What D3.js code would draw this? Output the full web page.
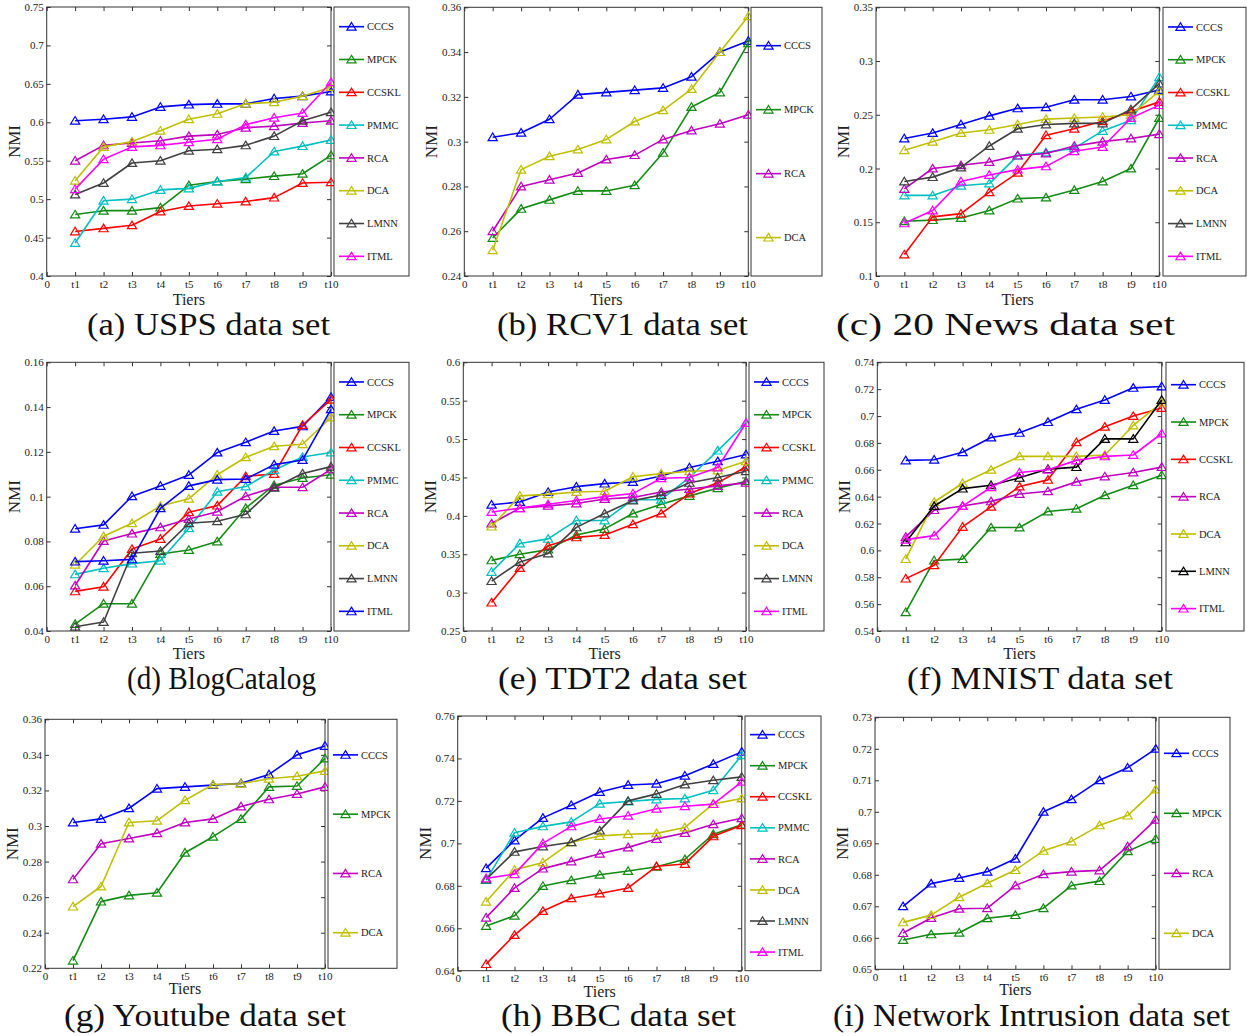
<!DOCTYPE html>
<html>
<head>
<meta charset="utf-8">
<script src="https://cdn.jsdelivr.net/npm/d3@7"></script>
<style>
  body { margin: 0; background: #fff; }
  svg { display: block; }
</style>
</head>
<body>
<svg id="fig" width="1247" height="1036"></svg>
<script>
// ---- shared ----
const tierLabels = ["0", "t1", "t2", "t3", "t4", "t5", "t6", "t7", "t8", "t9", "t10"];

// ---- (a) USPS ----
const uspsMethods = ["CCCS", "MPCK", "CCSKL", "PMMC", "RCA", "DCA", "LMNN", "ITML"];
const uspsTicks = [0.4, 0.45, 0.5, 0.55, 0.6, 0.65, 0.7, 0.75];
const uspsNMI = [
  [0.602, 0.604, 0.607, 0.620, 0.623, 0.624, 0.624, 0.631, 0.634, 0.640],
  [0.480, 0.485, 0.485, 0.489, 0.518, 0.523, 0.526, 0.530, 0.533, 0.557],
  [0.458, 0.462, 0.466, 0.484, 0.491, 0.494, 0.497, 0.502, 0.521, 0.522],
  [0.443, 0.498, 0.500, 0.512, 0.514, 0.523, 0.528, 0.562, 0.569, 0.577],
  [0.550, 0.570, 0.573, 0.576, 0.582, 0.584, 0.593, 0.595, 0.599, 0.602],
  [0.524, 0.568, 0.575, 0.589, 0.604, 0.611, 0.624, 0.626, 0.634, 0.646],
  [0.506, 0.521, 0.547, 0.550, 0.563, 0.565, 0.570, 0.582, 0.602, 0.613],
  [0.513, 0.552, 0.568, 0.570, 0.574, 0.578, 0.597, 0.606, 0.612, 0.652]
];

// ---- (b) RCV1 ----
const rcv1Methods = ["CCCS", "MPCK", "RCA", "DCA"];
const rcv1Ticks = [0.24, 0.26, 0.28, 0.3, 0.32, 0.34, 0.36];
const rcv1NMI = [
  [0.302, 0.304, 0.310, 0.321, 0.322, 0.323, 0.324, 0.329, 0.340, 0.345],
  [0.257, 0.270, 0.274, 0.278, 0.278, 0.2805, 0.295, 0.3155, 0.322, 0.344],
  [0.260, 0.280, 0.283, 0.286, 0.292, 0.294, 0.301, 0.305, 0.308, 0.312],
  [0.2515, 0.2875, 0.2935, 0.2965, 0.301, 0.309, 0.314, 0.3235, 0.340, 0.356]
];

// ---- (c) 20 News ----
const newsMethods = ["CCCS", "MPCK", "CCSKL", "PMMC", "RCA", "DCA", "LMNN", "ITML"];
const newsTicks = [0.1, 0.15, 0.2, 0.25, 0.3, 0.35];
const newsNMI = [
  [0.228, 0.233, 0.241, 0.249, 0.256, 0.257, 0.264, 0.264, 0.267, 0.273],
  [0.151, 0.152, 0.154, 0.161, 0.172, 0.173, 0.180, 0.188, 0.200, 0.247],
  [0.120, 0.155, 0.158, 0.178, 0.196, 0.231, 0.237, 0.244, 0.253, 0.262],
  [0.175, 0.175, 0.184, 0.186, 0.212, 0.215, 0.219, 0.235, 0.245, 0.285],
  [0.181, 0.200, 0.203, 0.206, 0.212, 0.214, 0.221, 0.225, 0.228, 0.232],
  [0.217, 0.225, 0.233, 0.236, 0.241, 0.246, 0.247, 0.248, 0.250, 0.272],
  [0.188, 0.192, 0.201, 0.221, 0.237, 0.241, 0.242, 0.242, 0.255, 0.279],
  [0.149, 0.161, 0.188, 0.194, 0.199, 0.202, 0.216, 0.220, 0.247, 0.259]
];

// ---- (d) BlogCatalog ----
const blogMethods = ["CCCS", "MPCK", "CCSKL", "PMMC", "RCA", "DCA", "LMNN", "ITML"];
const blogTicks = [0.04, 0.06, 0.08, 0.1, 0.12, 0.14, 0.16];
const blogNMI = [
  [0.0857, 0.0874, 0.1002, 0.1048, 0.1097, 0.1197, 0.1243, 0.1293, 0.1314, 0.1445],
  [0.0431, 0.0522, 0.0522, 0.0744, 0.0762, 0.0800, 0.0949, 0.1051, 0.1083, 0.1098],
  [0.0577, 0.0598, 0.0766, 0.0811, 0.0930, 0.0960, 0.1091, 0.1101, 0.1320, 0.1433],
  [0.0653, 0.0680, 0.0701, 0.0714, 0.0859, 0.1022, 0.1045, 0.1119, 0.1177, 0.1197],
  [0.0603, 0.0802, 0.0835, 0.0863, 0.0900, 0.0933, 0.1002, 0.1042, 0.1042, 0.1122],
  [0.0696, 0.0823, 0.0881, 0.0958, 0.0991, 0.1098, 0.1176, 0.1225, 0.1234, 0.1354],
  [0.0419, 0.0440, 0.0747, 0.0757, 0.0881, 0.0890, 0.0921, 0.1040, 0.1103, 0.1134],
  [0.0710, 0.0714, 0.0720, 0.0948, 0.1048, 0.1076, 0.1079, 0.1143, 0.1164, 0.1390]
];

// ---- (e) TDT2 ----
const tdt2Methods = ["CCCS", "MPCK", "CCSKL", "PMMC", "RCA", "DCA", "LMNN", "ITML"];
const tdt2Ticks = [0.25, 0.3, 0.35, 0.4, 0.45, 0.5, 0.55, 0.6];
const tdt2NMI = [
  [0.4145, 0.418, 0.431, 0.438, 0.442, 0.444, 0.452, 0.463, 0.471, 0.480],
  [0.342, 0.350, 0.356, 0.375, 0.383, 0.403, 0.415, 0.426, 0.436, 0.445],
  [0.287, 0.332, 0.361, 0.372, 0.375, 0.389, 0.403, 0.429, 0.443, 0.464],
  [0.327, 0.364, 0.370, 0.394, 0.394, 0.421, 0.421, 0.450, 0.485, 0.521],
  [0.390, 0.410, 0.413, 0.416, 0.422, 0.424, 0.431, 0.435, 0.439, 0.443],
  [0.386, 0.426, 0.428, 0.431, 0.432, 0.451, 0.455, 0.458, 0.459, 0.471],
  [0.315, 0.340, 0.351, 0.385, 0.403, 0.420, 0.427, 0.443, 0.450, 0.458],
  [0.405, 0.410, 0.415, 0.420, 0.425, 0.429, 0.449, 0.450, 0.463, 0.521]
];

// ---- (f) MNIST ----
const mnistMethods = ["CCCS", "MPCK", "CCSKL", "RCA", "DCA", "LMNN", "ITML"];
const mnistTicks = [0.54, 0.56, 0.58, 0.6, 0.62, 0.64, 0.66, 0.68, 0.7, 0.72, 0.74];
const mnistNMI = [
  [0.667, 0.6675, 0.673, 0.684, 0.6875, 0.6955, 0.705, 0.712, 0.721, 0.722],
  [0.554, 0.5925, 0.5935, 0.617, 0.617, 0.629, 0.631, 0.641, 0.6485, 0.656],
  [0.579, 0.589, 0.6175, 0.6325, 0.6475, 0.6525, 0.6805, 0.692, 0.700, 0.706],
  [0.610, 0.630, 0.633, 0.6365, 0.642, 0.644, 0.651, 0.655, 0.658, 0.662],
  [0.5935, 0.636, 0.650, 0.660, 0.670, 0.670, 0.670, 0.671, 0.693, 0.710],
  [0.606, 0.633, 0.646, 0.6485, 0.654, 0.6605, 0.662, 0.683, 0.683, 0.712],
  [0.608, 0.611, 0.633, 0.647, 0.658, 0.660, 0.667, 0.670, 0.671, 0.687]
];

// ---- (g) Youtube ----
const youtubeMethods = ["CCCS", "MPCK", "RCA", "DCA"];
const youtubeTicks = [0.22, 0.24, 0.26, 0.28, 0.3, 0.32, 0.34, 0.36];
const youtubeNMI = [
  [0.302, 0.304, 0.310, 0.321, 0.322, 0.323, 0.324, 0.329, 0.340, 0.345],
  [0.2243, 0.2575, 0.261, 0.2625, 0.285, 0.294, 0.304, 0.322, 0.3225, 0.338],
  [0.270, 0.290, 0.293, 0.296, 0.302, 0.304, 0.311, 0.315, 0.318, 0.322],
  [0.2547, 0.266, 0.302, 0.303, 0.3145, 0.3233, 0.3238, 0.3266, 0.328, 0.331]
];

// ---- (h) BBC ----
const bbcMethods = ["CCCS", "MPCK", "CCSKL", "PMMC", "RCA", "DCA", "LMNN", "ITML"];
const bbcTicks = [0.64, 0.66, 0.68, 0.7, 0.72, 0.74, 0.76];
const bbcNMI = [
  [0.6883, 0.7014, 0.712, 0.718, 0.7242, 0.7275, 0.7281, 0.7319, 0.7374, 0.7431],
  [0.6611, 0.6659, 0.6799, 0.6826, 0.6852, 0.687, 0.689, 0.6925, 0.7043, 0.7088],
  [0.6431, 0.6568, 0.6681, 0.6741, 0.6764, 0.679, 0.6892, 0.6903, 0.7033, 0.7085],
  [0.6827, 0.705, 0.708, 0.7101, 0.7187, 0.7197, 0.7207, 0.7211, 0.725, 0.7415],
  [0.665, 0.679, 0.6881, 0.6915, 0.6951, 0.6981, 0.7021, 0.7049, 0.709, 0.7118],
  [0.6725, 0.6875, 0.691, 0.7005, 0.7035, 0.7043, 0.7047, 0.7075, 0.7186, 0.7211],
  [0.683, 0.696, 0.6985, 0.7005, 0.706, 0.720, 0.7233, 0.7277, 0.7297, 0.7313],
  [0.6835, 0.6855, 0.700, 0.708, 0.7115, 0.713, 0.7163, 0.7175, 0.7185, 0.729]
];

// ---- (i) Network Intrusion ----
const intrusionMethods = ["CCCS", "MPCK", "RCA", "DCA"];
const intrusionTicks = [0.65, 0.66, 0.67, 0.68, 0.69, 0.7, 0.71, 0.72, 0.73];
const intrusionNMI = [
  [0.670, 0.6772, 0.679, 0.681, 0.6851, 0.700, 0.704, 0.710, 0.714, 0.720],
  [0.6593, 0.6611, 0.6616, 0.6662, 0.6672, 0.6694, 0.6766, 0.678, 0.6875, 0.6914],
  [0.6615, 0.6663, 0.6692, 0.6694, 0.6766, 0.6802, 0.681, 0.6814, 0.689, 0.6975],
  [0.6649, 0.6672, 0.6729, 0.6773, 0.6815, 0.6876, 0.6906, 0.6957, 0.6988, 0.7071]
];

// ---- styling ----
const methodColors = {
  CCCS: "#0000ff", MPCK: "#138a13", CCSKL: "#ff0000", PMMC: "#00bfbf",
  RCA: "#bf00bf", DCA: "#bfbf00", LMNN: "#404040", ITML: "#ff00ff"
};
const FONT = "'Liberation Serif', 'Times New Roman', serif";

// Panel layout: plot area, legend box and caption position.
const panels = [
  { caption: "(a) USPS data set", methods: uspsMethods, values: uspsNMI, ticks: uspsTicks,
    x0: 46.7, x1: 331, top: 7, bottom: 276, lg: [334, 409], capX: 208.5, capW: 243, capY: 335, tiersDy: 29 },
  { caption: "(b) RCV1 data set", methods: rcv1Methods, values: rcv1NMI, ticks: rcv1Ticks,
    x0: 464.3, x1: 748.3, top: 7.3, bottom: 276, lg: [751, 822], capX: 622.5, capW: 251, capY: 335, tiersDy: 29 },
  { caption: "(c) 20 News data set", methods: newsMethods, values: newsNMI, ticks: newsTicks,
    x0: 876, x1: 1159.3, top: 7.3, bottom: 276, lg: [1163, 1246], capX: 1005.5, capW: 339, capY: 335, tiersDy: 29 },
  { caption: "(d) BlogCatalog", methods: blogMethods, values: blogNMI, ticks: blogTicks,
    x0: 46.7, x1: 331, top: 362.3, bottom: 631, lg: [334, 409], capX: 221.5, capW: 189, capY: 689, tiersDy: 28,
    colorOverride: { ITML: "#0000ff" } },
  { caption: "(e) TDT2 data set", methods: tdt2Methods, values: tdt2NMI, ticks: tdt2Ticks,
    x0: 463.3, x1: 746, top: 362.3, bottom: 631, lg: [749, 824], capX: 622.5, capW: 249, capY: 689, tiersDy: 28 },
  { caption: "(f) MNIST data set", methods: mnistMethods, values: mnistNMI, ticks: mnistTicks,
    x0: 877.3, x1: 1161.7, top: 362.3, bottom: 631, lg: [1166, 1244], capX: 1040, capW: 266, capY: 689, tiersDy: 28,
    colorOverride: { LMNN: "#000000" } },
  { caption: "(g) Youtube data set", methods: youtubeMethods, values: youtubeNMI, ticks: youtubeTicks,
    x0: 45, x1: 325, top: 719.3, bottom: 968.3, lg: [328, 397], capX: 205, capW: 282, capY: 1026, tiersDy: 26 },
  { caption: "(h) BBC data set", methods: bbcMethods, values: bbcNMI, ticks: bbcTicks,
    x0: 457.7, x1: 741.7, top: 716, bottom: 970.7, lg: [745, 821], capX: 618.5, capW: 235, capY: 1026, tiersDy: 26.5 },
  { caption: "(i) Network Intrusion data set", methods: intrusionMethods, values: intrusionNMI, ticks: intrusionTicks,
    x0: 875, x1: 1155.7, top: 717.3, bottom: 969.3, lg: [1159, 1230], capX: 1031.5, capW: 397, capY: 1026, tiersDy: 26 }
];

const svg = d3.select("#fig");
svg.append("rect").attr("width", 1247).attr("height", 1036).attr("fill", "#fff");

const fmt = v => String(+v.toFixed(3));
const triangle = "M0,-4.2L4.6,3.4L-4.6,3.4Z";

panels.forEach(p => {
  const colorOf = m => (p.colorOverride && p.colorOverride[m]) || methodColors[m];
  const x = d3.scaleLinear().domain([0, 10]).range([p.x0, p.x1]);
  const y = d3.scaleLinear().domain([p.ticks[0], p.ticks[p.ticks.length - 1]]).range([p.bottom, p.top]);
  const g = svg.append("g");

  // axes: inward ticks, mirrored on the top and right edges
  const styleAxis = sel => {
    sel.select(".domain").remove();
    sel.selectAll("line").attr("stroke", "#333");
    sel.selectAll("text").attr("font-family", FONT).attr("font-size", 11).attr("fill", "#222");
  };
  g.append("g").attr("transform", `translate(${p.x0},0)`)
    .call(d3.axisLeft(y).tickValues(p.ticks).tickFormat(fmt).tickSize(-4).tickPadding(3))
    .call(styleAxis);
  g.append("g").attr("transform", `translate(${p.x1},0)`)
    .call(d3.axisRight(y).tickValues(p.ticks).tickFormat("").tickSize(-4))
    .call(styleAxis);
  g.append("g").attr("transform", `translate(0,${p.bottom})`)
    .call(d3.axisBottom(x).tickValues(d3.range(0, 11)).tickFormat(i => tierLabels[i]).tickSize(-4).tickPadding(4))
    .call(styleAxis);
  g.append("g").attr("transform", `translate(0,${p.top})`)
    .call(d3.axisTop(x).tickValues(d3.range(0, 11)).tickFormat("").tickSize(-4))
    .call(styleAxis);

  // plot frame
  g.append("rect")
    .attr("x", p.x0).attr("y", p.top)
    .attr("width", p.x1 - p.x0).attr("height", p.bottom - p.top)
    .attr("fill", "none").attr("stroke", "#333").attr("stroke-width", 1);

  // series
  const line = d3.line().x((d, i) => x(i + 1)).y(d => y(d));
  p.methods.forEach((m, k) => {
    const vals = p.values[k];
    const c = colorOf(m);
    g.append("path").attr("d", line(vals))
      .attr("fill", "none").attr("stroke", c).attr("stroke-width", 1.6)
      .attr("stroke-linejoin", "round");
    g.selectAll(null).data(vals).join("path")
      .attr("d", triangle)
      .attr("transform", (d, i) => `translate(${x(i + 1)},${y(d)})`)
      .attr("fill", "none").attr("stroke", c).attr("stroke-width", 1.2);
  });

  // axis titles
  g.append("text")
    .attr("transform", `translate(${p.x0 - 27},${(p.top + p.bottom) / 2}) rotate(-90)`)
    .attr("text-anchor", "middle").attr("font-family", FONT).attr("font-size", 17).attr("fill", "#222")
    .text("NMI");
  g.append("text")
    .attr("x", (p.x0 + p.x1) / 2).attr("y", p.bottom + p.tiersDy)
    .attr("text-anchor", "middle").attr("font-family", FONT).attr("font-size", 16).attr("fill", "#222")
    .text("Tiers");

  // legend
  const [lx0, lx1] = p.lg;
  const h = p.bottom - p.top;
  const n = p.methods.length;
  const step = h / (n + 0.2);
  const first = p.top + (h - (n - 1) * step) / 2;
  g.append("rect")
    .attr("x", lx0).attr("y", p.top).attr("width", lx1 - lx0).attr("height", h)
    .attr("fill", "#fff").attr("stroke", "#333").attr("stroke-width", 1);
  p.methods.forEach((m, k) => {
    const ly = first + k * step;
    const c = colorOf(m);
    g.append("line").attr("x1", lx0 + 5).attr("x2", lx0 + 30).attr("y1", ly).attr("y2", ly)
      .attr("stroke", c).attr("stroke-width", 1.6);
    g.append("path").attr("d", triangle).attr("transform", `translate(${lx0 + 17.5},${ly})`)
      .attr("fill", "none").attr("stroke", c).attr("stroke-width", 1.2);
    g.append("text").attr("x", lx0 + 33).attr("y", ly).attr("dy", "0.35em")
      .attr("font-family", FONT).attr("font-size", 10.5).attr("fill", "#222")
      .text(m);
  });

  // caption
  svg.append("text")
    .attr("x", p.capX - p.capW / 2).attr("y", p.capY)
    .attr("textLength", p.capW).attr("lengthAdjust", "spacingAndGlyphs")
    .attr("font-family", FONT).attr("font-size", 31).attr("fill", "#111")
    .text(p.caption);
});
</script>
</body>
</html>
